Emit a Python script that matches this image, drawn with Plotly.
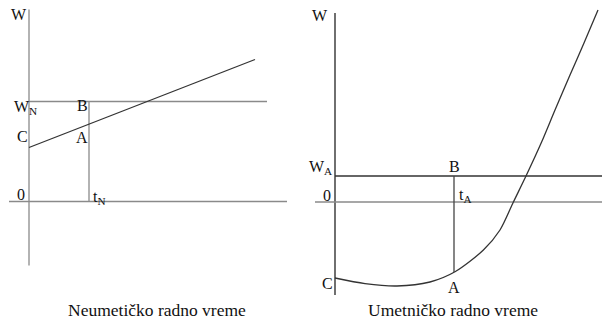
import plotly.graph_objects as go

# ---------- data: left panel (Neumetičko radno vreme) ----------
n_t_axis = [-1.0, 12.9]          # extent of t axis (W = 0)
n_w_axis = [9.6, -3.2]           # extent of W axis (t = 0)
n_WN = 5.0                       # norm level W_N
n_WN_end = 11.9                  # end of W_N line
n_tN = 3.0                       # t_N
n_line_t = [0.0, 11.3]           # straight line C -> ...
n_line_w = [2.7, 7.1]

# ---------- data: right panel (Umetničko radno vreme) ----------
u_t_axis = [-1.0, 13.35]
u_w_axis = [9.45, -4.65]
u_WA = 1.3
u_WA_end = 13.35
u_tA = 5.95
u_A = -3.5
u_curve_t = [0.0, 1.5, 3.1, 4.75, 6.0, 7.42, 8.25, 8.92, 9.55, 10.33, 11.0, 11.75, 12.45, 13.15]
u_curve_w = [-3.8, -4.08, -4.2, -4.0, -3.49, -2.4, -1.4, 0.0, 1.3, 3.0, 4.6, 6.35, 7.95, 9.6]

GRAY = "#8a8a8a"
DARK = "#333333"
FONT = "Times New Roman, Liberation Serif, DejaVu Serif, serif"

fig = go.Figure()

def seg(x, y, color, ax, shape="linear", width=1.3):
    line = dict(color=color, width=width, shape=shape)
    if shape == "spline":
        line["smoothing"] = 0.8
    fig.add_trace(go.Scatter(x=x, y=y, mode="lines", line=line,
                             xaxis=ax[0], yaxis=ax[1], hoverinfo="skip",
                             showlegend=False))

L = ("x", "y")
R = ("x2", "y2")

# left panel
seg([0, 0], n_w_axis, GRAY, L)
seg(n_t_axis, [0, 0], GRAY, L)
seg([0, n_WN_end], [n_WN, n_WN], GRAY, L)
seg([n_tN, n_tN], [0, n_WN], GRAY, L)
seg(n_line_t, n_line_w, DARK, L)

# right panel
seg([0, 0], u_w_axis, "#222222", R)
seg(u_t_axis, [0, 0], GRAY, R)
seg([0, u_WA_end], [u_WA, u_WA], DARK, R)
seg([u_tA, u_tA], [u_WA, u_A], "#444444", R)
seg(u_curve_t, u_curve_w, DARK, R, shape="spline")

def label(text, x, y, ax, xanchor="center", size=16):
    fig.add_annotation(text=text, x=x, y=y, xref=ax[0], yref=ax[1],
                       xanchor=xanchor, yanchor="middle", showarrow=False,
                       font=dict(family=FONT, size=size, color="#111111"))

# left labels
label("W", -0.5, 9.33, L)
label("W<sub>N</sub>", -0.85, 4.7, L, xanchor="left")
label("B", 2.65, 4.78, L)
label("C", -0.35, 3.27, L)
label("A", 2.65, 3.22, L)
label("0", -0.4, 0.33, L)
label("t<sub>N</sub>", 3.12, 0.22, L, xanchor="left")
label("Neumetičko radno vreme", 6.4, -5.43, L, size=17.5)

# right labels
label("W", -0.75, 9.35, R)
label("W<sub>A</sub>", -1.4, 1.75, R, xanchor="left")
label("B", 5.95, 1.8, R)
label("0", -0.4, 0.35, R)
label("t<sub>A</sub>", 6.08, 0.35, R, xanchor="left")
label("C", -0.4, -4.05, R)
label("A", 5.95, -4.25, R)
label("Umetničko radno vreme", 5.9, -5.4, R, size=17.5)

ax_common = dict(visible=False, showgrid=False, zeroline=False, fixedrange=True)
fig.update_layout(
    width=602, height=321,
    margin=dict(l=0, r=0, t=0, b=0),
    paper_bgcolor="white", plot_bgcolor="white",
    xaxis=dict(domain=[0, 300/602], range=[-29/20, (300-29)/20], **ax_common),
    yaxis=dict(domain=[0, 1], range=[-(321-201.5)/20, 201.5/20], **ax_common),
    xaxis2=dict(domain=[300/602, 1], range=[(300-335)/20, (602-335)/20], anchor="y2", **ax_common),
    yaxis2=dict(domain=[0, 1], range=[-(321-202)/20, 202/20], anchor="x2", **ax_common),
)

fig.write_html("out.html", config={"displayModeBar": False},
               post_script="document.body.style.margin='0';document.body.style.overflow='hidden';")
